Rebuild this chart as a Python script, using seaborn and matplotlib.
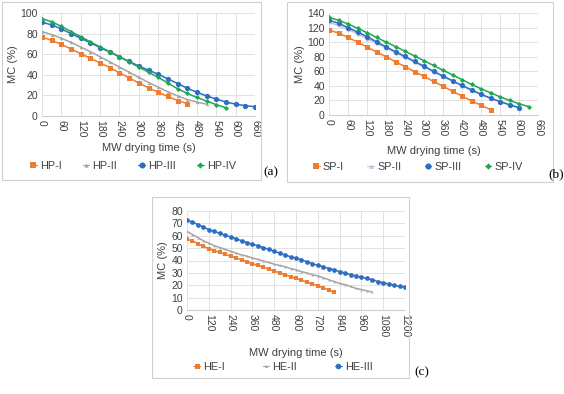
import numpy as np
import pandas as pd
import matplotlib
matplotlib.use("Agg")
import matplotlib.pyplot as plt
import seaborn as sns
from matplotlib.lines import Line2D
from matplotlib.patches import Rectangle

# ---------------- data ----------------
hp_step = 30
hp_i = [76.5, 73.5, 69.5, 65, 60.5, 56, 51.5, 47, 42, 37, 32, 27.5, 23, 19, 15, 12]
hp_ii = [82, 79, 75.5, 71.5, 67, 62.5, 57.5, 52.5, 47.5, 42.5, 37.5, 32.5, 28, 23.5, 19.5, 16, 13.5, 11.5]
hp_iii = [91, 88.5, 84.5, 80, 75.5, 71, 66.5, 62, 57.5, 53, 48.5, 44.5, 40.5, 36, 31.5, 27, 23,
          19.5, 16.5, 13.5, 11.5, 10, 9]
hp_iv = [94.5, 91.5, 87, 82, 77, 72, 67, 62.5, 57.5, 52.5, 47.5, 42.5, 37.5, 32, 26.5, 22, 18,
         14.5, 11, 8]

sp_i = [116.5, 112.5, 106.5, 100, 93.5, 86.5, 80, 73, 66.5, 59.5, 53, 46, 39.5, 32.5, 26, 19.5, 13.5, 7.5]
sp_ii = [127, 123, 117.5, 111.5, 105, 98.5, 92, 85.5, 79, 72.5, 66, 59.5, 53, 46.5, 40, 34, 28.5,
         23, 18.5, 14, 10.5]
sp_iii = [130, 126, 120, 114, 107.5, 100.5, 93.5, 87, 80.5, 73.5, 67, 60, 53.5, 47, 40.5, 34.5,
          28.5, 23, 18.5, 14, 10]
sp_iv = [134, 130, 125, 119, 113, 106.5, 100, 94, 87.5, 81, 74.5, 68, 61.5, 55, 48.5, 42, 36,
         30.5, 25, 20, 15.5, 11.5]

he_i = [57, 56, 53.5, 51.5, 49.5, 48, 46.5, 45, 43.5, 42, 40.5, 39, 37.5, 36, 34.5, 33, 31.5, 30,
        28.5, 27, 25.5, 24, 22.5, 21, 19.5, 18, 16, 14.5]
he_ii = [63.5, 61, 58.5, 56, 54, 52, 50.5, 49, 47.5, 46, 44.5, 43.5, 42, 41, 39.5, 38.5, 37, 36,
         35, 33.5, 32.5, 31, 30, 28.5, 27.5, 26, 24.5, 23, 21.5, 20.5, 19, 17.5, 16.5, 15.5, 14.5]
he_iii = [72.5, 71, 69, 67, 65, 63.5, 62, 60.5, 59, 57.5, 56, 54.5, 53, 52, 50.5, 49, 47.5, 46,
          44.5, 43, 42, 40.5, 39, 37.5, 36, 35, 33.5, 32.5, 31, 30, 28.5, 27.5, 26.5, 25.5, 24.5,
          23, 22, 21, 20, 19, 18.5]

hp_names = ["HP-I", "HP-II", "HP-III", "HP-IV"]
sp_names = ["SP-I", "SP-II", "SP-III", "SP-IV"]
he_names = ["HE-I", "HE-II", "HE-III"]

# ---------------- style ----------------
sns.set_style("white")
plt.rcParams["font.family"] = ["Liberation Sans", "DejaVu Sans"]

ORANGE = "#ED7D31"
GRAY = "#A5A5A5"
BLUE = "#2E6EC2"
GREEN = "#1FA852"
LAV = "#C4C0DA"
TXT = "#404040"

W, H = 564, 394
fig = plt.figure(figsize=(W / 100, H / 100), dpi=100)


def rect(l, t, r, b):
    return [l / W, 1 - b / H, (r - l) / W, (b - t) / H]


def box(l, t, r, b):
    fig.patches.append(Rectangle((l / W, 1 - b / H), (r - l) / W, (b - t) / H,
                                 transform=fig.transFigure, fill=False,
                                 edgecolor="#D0D0D0", linewidth=0.8))


def panel(ax_px, box_px, series, names, styles, step, xmax, xstep, ymax, ystep,
          xlabel_y, leg_y, leg_x, colsp, letter, letter_xy):
    box(*box_px)
    ax = fig.add_axes(rect(*ax_px))
    frames = []
    for vals, name in zip(series, names):
        frames.append(pd.DataFrame({"t": np.arange(len(vals)) * step, "mc": vals, "s": name}))
    df = pd.concat(frames, ignore_index=True)
    handles = []
    for name in names:
        c, m, ms = styles[name]
        sub = df[df.s == name]
        sns.lineplot(data=sub, x="t", y="mc", ax=ax, color=c, marker=m, markersize=ms,
                     markeredgewidth=0, linewidth=1.1, legend=False)
        handles.append(Line2D([], [], color=c, marker=m, markersize=ms + 0.6,
                              markeredgewidth=0, linewidth=0.8))
    ax.set_xlim(0, xmax)
    ax.set_ylim(0, ymax)
    ax.set_xticks(np.arange(0, xmax + 1, xstep))
    ax.set_yticks(np.arange(0, ymax + 1, ystep))
    ax.tick_params(axis="x", labelrotation=-90, labelsize=7.5, colors=TXT, length=0, pad=3)
    ax.tick_params(axis="y", labelsize=7.5, colors=TXT, length=0, pad=3)
    ax.grid(True, color="#E2E2E2", linewidth=0.7)
    for s in ["top", "right"]:
        ax.spines[s].set_visible(False)
    ax.spines["left"].set_visible(False)
    ax.spines["bottom"].set_color("#D0D0D0")
    ax.spines["bottom"].set_linewidth(0.8)
    ax.set_xlabel("")
    ax.set_ylabel("MC (%)", fontsize=8, color=TXT, labelpad=2)
    cx = (ax_px[0] + ax_px[2]) / 2
    fig.text(cx / W, 1 - xlabel_y / H, "MW drying time (s)", ha="center", va="center",
             fontsize=8, color=TXT)
    leg = fig.legend(handles, names, loc="center", ncol=len(names),
                     bbox_to_anchor=(leg_x / W, 1 - leg_y / H), frameon=False,
                     fontsize=7.8, handlelength=0.6, handletextpad=0.3,
                     columnspacing=colsp, borderaxespad=0, borderpad=0)
    for t in leg.get_texts():
        t.set_color(TXT)
    fig.text(letter_xy[0] / W, 1 - letter_xy[1] / H, letter, ha="center", va="center",
             fontsize=9.5, family="Liberation Serif", color="black")
    return ax


panel((42, 13, 255, 116), (2, 2, 261, 180),
      [hp_i, hp_ii, hp_iii, hp_iv], hp_names,
      {"HP-I": (ORANGE, "s", 3.6), "HP-II": (GRAY, "^", 2.4),
       "HP-III": (BLUE, "o", 3.8), "HP-IV": (GREEN, "D", 2.6)},
      hp_step, 660, 60, 100, 20, 148, 166, 133, 1.95, "(a)", (271, 172))

panel((329, 13, 538, 115), (287, 2, 553, 182),
      [sp_i, sp_ii, sp_iii, sp_iv], sp_names,
      {"SP-I": (ORANGE, "s", 3.6), "SP-II": (LAV, "^", 2.8),
       "SP-III": (BLUE, "o", 3.8), "SP-IV": (GREEN, "D", 2.6)},
      30, 660, 60, 140, 20, 151, 167, 418, 2.15, "(b)", (556, 174))

panel((187, 211, 405, 310), (152, 197, 409, 378),
      [he_i, he_ii, he_iii], he_names,
      {"HE-I": (ORANGE, "s", 3.0), "HE-II": (GRAY, "^", 1.6),
       "HE-III": (BLUE, "o", 3.4)},
      30, 1200, 120, 80, 10, 353, 367, 283, 3.5, "(c)", (422, 372))

fig.savefig("out.png", dpi=100)
